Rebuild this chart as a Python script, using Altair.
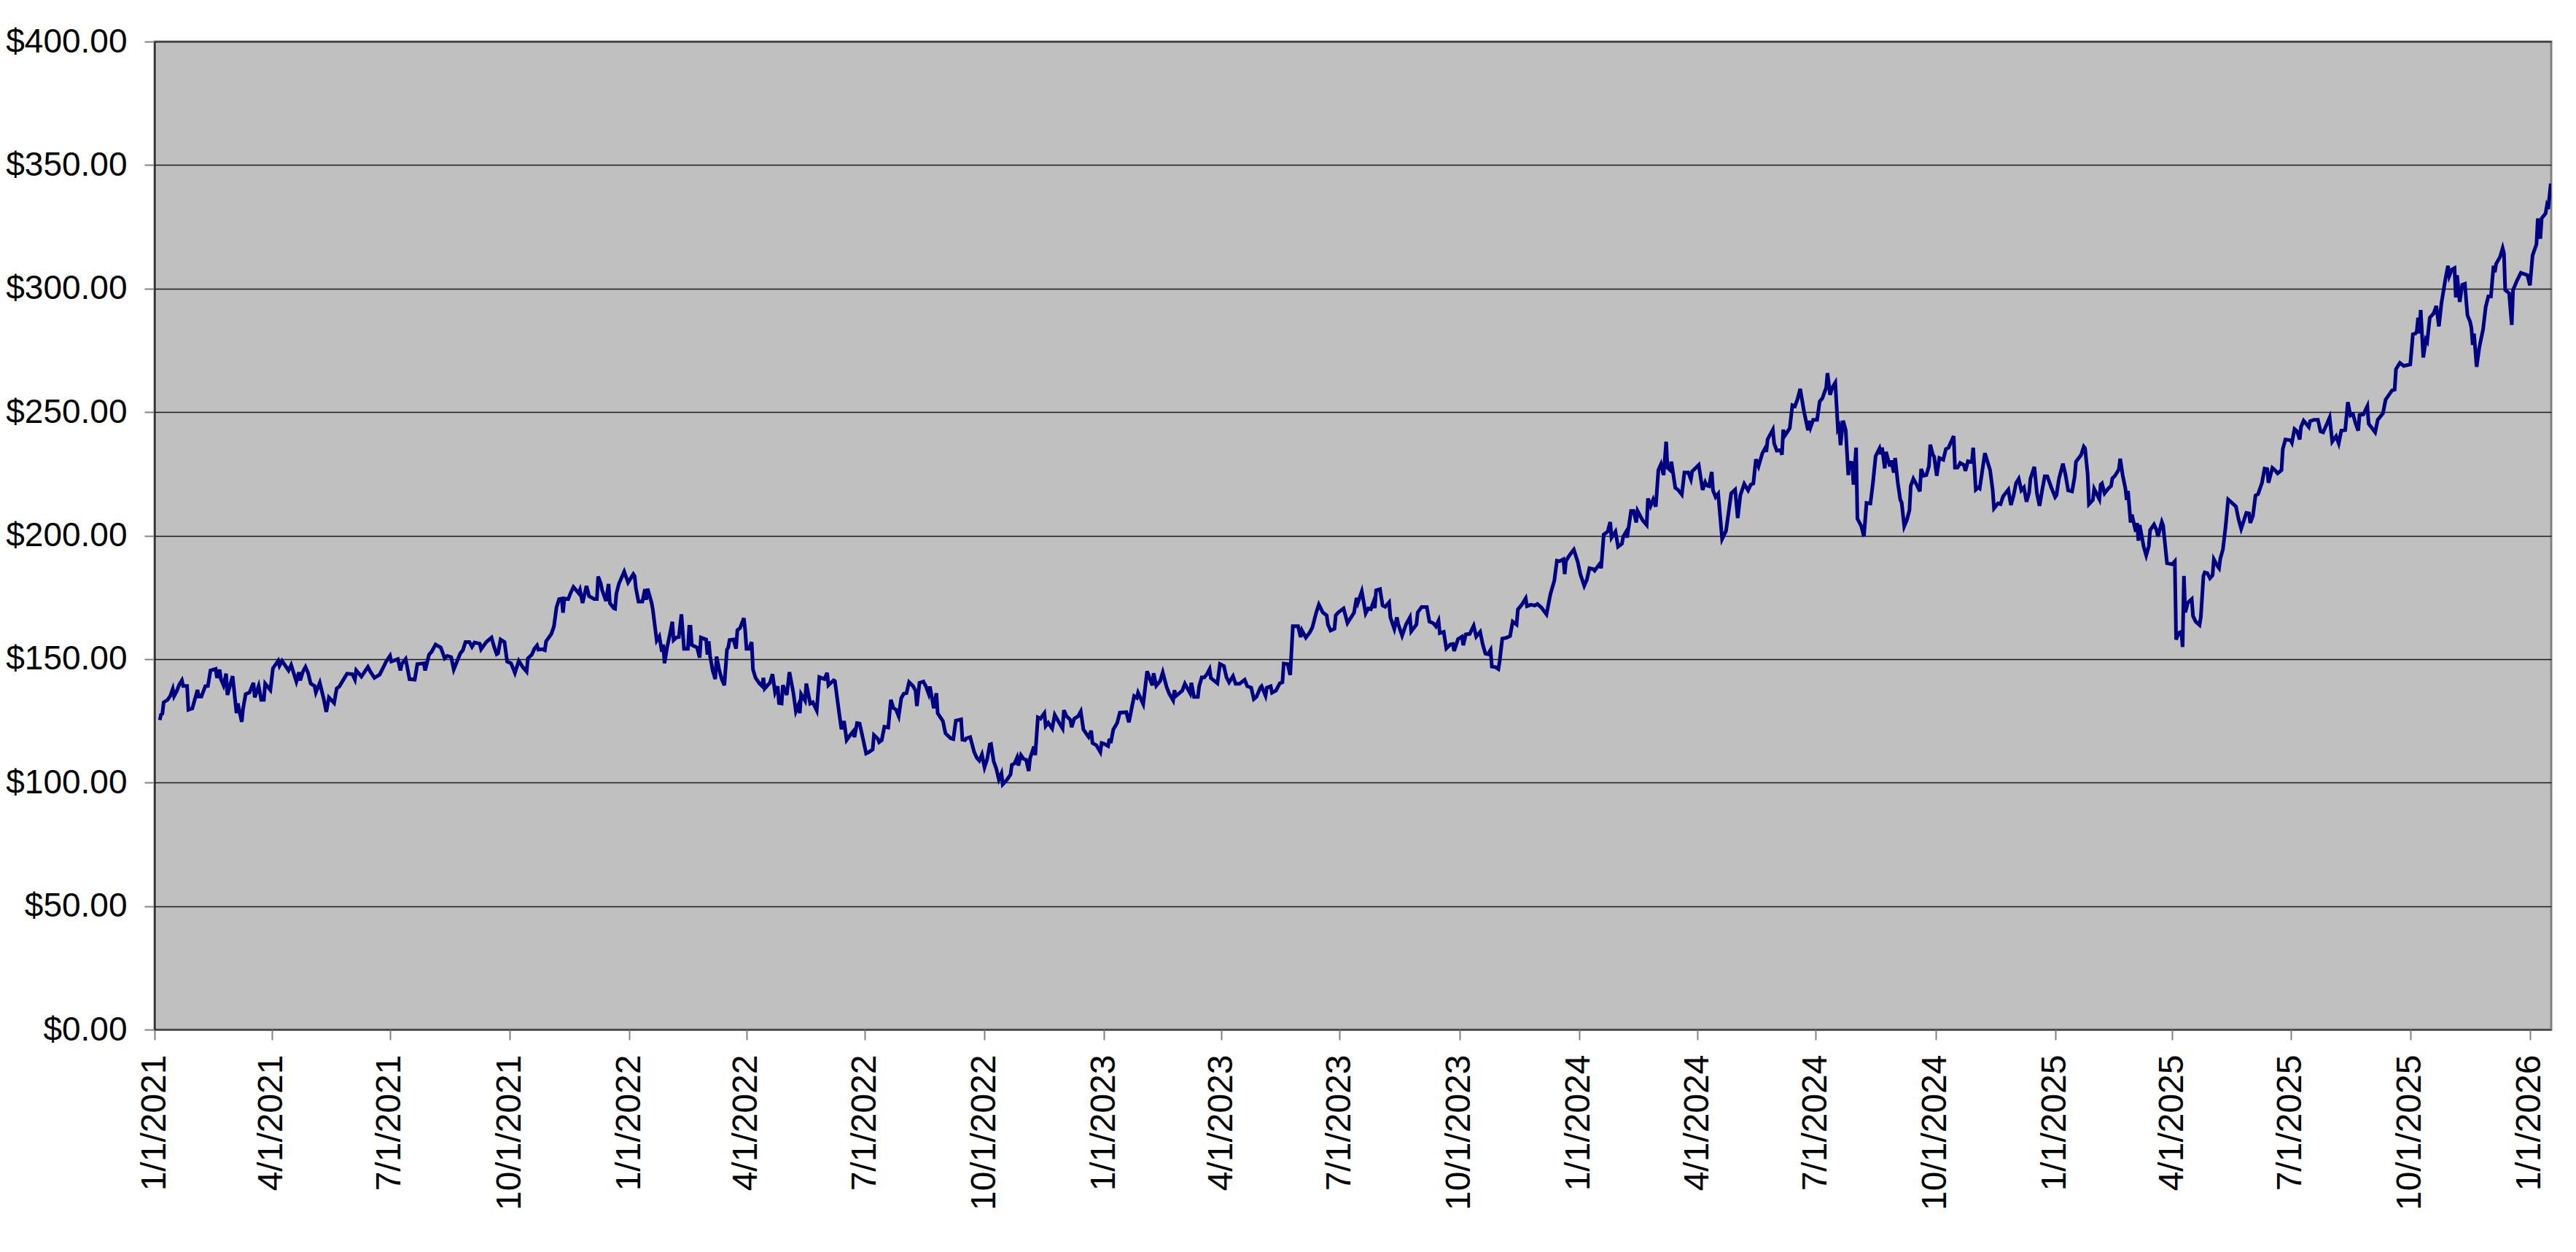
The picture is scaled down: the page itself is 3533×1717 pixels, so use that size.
import altair as alt
import pandas as pd

# Day offsets from 2021-01-01 and closing prices
d1 = [4,5,6,7,10,12,14,15,17,19,21,22,25,26,29,33,34,36,39,41,43,47,48,50,51,53,55,56,60,63,64,67,68,70,73,76,77,80,82,84,85,89,91,95,96,98,103,105,109,111,112,114,116,118,120,123,124,127,130,132,134,138,140,142,146,148,152,154,155,159,164,166,169,173,176,178,181,182,187,189,190,193,196,200,202,207,208,211,213,216,220,223,225,228,230,235,237,239,242,244,246,250,251,255,259,261,263,264,266,269,271,274,277,280,283,286,287,290,292,294,295,298,300,301,305]
v1 = [125.3,127.6,127.9,132.5,133.5,135,137.9,135,137,139.7,141.4,139.1,139.1,129.5,130,137.5,134.8,134.8,139,139.1,145.4,146,142.4,145.7,141.9,139.4,144.1,135.5,143.1,128.1,132,124.6,129.8,135.8,136.5,140.4,134.5,139.1,133.5,133.5,140.1,137.5,146.3,149.3,147.3,149.3,145.4,147.6,140.9,144.7,141.4,144.9,146.8,144.4,140.1,139.1,136.5,140.4,134,128.6,134.5,132.2,138.1,138.9,142.4,144.1,143.9,141.7,145.4,142.9,146.8,144.8,142.4,143.7,146.8,149,151.3,149,150,145.4,148,150,141.9,141.7,148,148.3,145.4,151.8,153,155.9,154.7,150.3,151.3,150.8,145.8,152.3,153.6,156.9,156.9,155,156.7,156.2,154,156.9,158.7,155,152,152.3,157.9,156.9,149,148.3,144.4,149.3,146.8,144.9,150.3,151.8,154.2,155.5,153.8,154,153.6,157.2,160.2]

d2 = [307,309,311,313,314,315,318,320,322,326,327,329,332,334,338,340,341,343,344,347,349,350,353,354,355,357,361,362,364,368,369,370,372,375,377,378,379,382,383,386,388,390,391,392,394,396,398,399,401,403,405,407,410,411,412,413,417,419,420,424,425,426,427,429,431,432,434,436,438,440,441,442,445,447,448,450,453,454,455,457,459,460,462,465,467,468,469,473,475,477,479,480,482,483,486,488,491,493,495,496,497,500,501,504,506,509,511,515,517,518,522,523,526,528,530,532,535,537,538,540,542,545,547,549,552,553,556,557,559,561,564,566,568,570,572,574,576,578,580,583,585,586,588,591,593,595,596,599,601,602,606,608,612,614,616,620,621,623,624,627]
v2 = [163.2,171,174.3,174.5,168.8,174.5,174.3,177,179.2,176.7,178,172.7,179.6,175.5,174.3,174.3,183.4,180.6,178,173.5,180.4,172.7,170.6,170.4,176.5,180.6,185.4,183.9,181,184.4,183.6,178.7,173.3,173.3,178.3,174,178.5,173,170.1,157.5,159.2,153,155.9,148.3,154.7,159.7,165.1,157.7,158.7,158.9,168.1,154.2,154.2,163.1,163.1,155.7,154.7,150.6,158.7,157.9,151.8,157.2,151.3,145.4,141.9,151,145.8,141.9,139.4,153.8,154.7,157.7,157.9,154.2,161.7,162.5,166.6,161.7,154.2,154.2,156.9,145.8,142.4,140.1,139.1,142.4,138.1,140.4,143.9,136.5,139,132.2,132,139.4,135.5,144.7,136.5,128.9,131.5,128.1,135.8,133.2,140.1,132,132.5,129.2,142.7,141.9,144.4,139.4,141.4,141.1,129.1,121.6,124.9,117.2,119.4,120.7,118.4,124.1,123.9,116.7,111.8,112.3,113.4,119.2,117.7,116.4,117.2,122.6,122.3,133.5,130.2,129.5,126.9,134.2,136,136.2,140.7,139.1,137.2,131,140.4,140.9,138.9,136,138.9,130.1,136.2,128.1,124.9,119.9,117.9,117.6,125.1,125.6,117.4,117.2,117.9,118.4]

d3 = [630,632,634,636,638,640,642,643,645,647,649,651,652,655,658,659,661,663,664,666,668,670,672,673,676,677,679,681,684,685,687,690,692,695,698,699,701,704,705,707,710,712,714,716,718,720,721,724,727,728,730,733,734,735,737,740,742,747,749,751,753,755,756,760,763,765,767,768,770,773,775,778,780,783,784,785,790,792,796,797,799,802,803,805,807,809,811,812,817,819,822,824,826,829,831,834,838,840,843,845,847,850,851,854,855,858,859,862,865,867,868,871,873,875,879,881,882,885,888,890,893,895,898,901,902,904,907,908,910,914,917,921,922,924,925,928,931,933,935,937,938,939,942,944,946]
v3 = [112.4,110.1,108.9,111.4,106.2,109.4,115.4,115.6,108.7,105.7,101.3,103.7,99.3,101,103.3,107.2,107.7,110.1,106.9,111.1,109.6,109.2,104.7,109.8,114.6,111.1,126.4,125.9,128.1,122.9,124.2,121.9,127.4,124.6,121.9,129.3,126.9,125.4,122.4,125.9,126.9,128.8,121.5,120,118.5,121,116,115.1,112.4,116,115.7,114.8,117.7,116,121.5,124.2,128.3,128.5,124.4,129.8,135,134.3,136.4,131.8,145.1,142.1,139.4,144.3,139.2,141.1,144.6,138.7,136,133.3,137.4,135,137.2,140,136.2,140.4,134.7,134.7,139,142.6,142.6,143.9,145.9,142.3,140.2,148,147.2,142.6,140.6,143.1,140,140,141.6,139,138.4,133.8,134.7,138.4,139,135.2,138.4,139,136.4,137.2,140.2,140.6,148.2,148,143.6,163.3,163.3,158.9,161.6,158.7,160.8,162.8,168.9,172.1,168.9,167.7,164,161.6,162.3,167.7,168.9,170.5,164.6,167.9,168.7,174.8,172.8,177.4,168.5,170.5,170.2,173.1,170.6,177.8,178.3,171.7,171.2]

d4 = [949,950,953,955,956,959,962,965,966,970,971,974,978,980,983,985,987,988,991,993,996,998,999,1002,1005,1006,1008,1011,1014,1016,1019,1021,1023,1025,1027,1028,1031,1033,1034,1036,1039,1042,1044,1047,1048,1051,1054,1055,1058,1061,1063,1066,1070,1072,1073,1076,1078,1080,1083,1084,1085,1088,1091,1094,1096,1099,1101,1103,1106,1107,1111,1112,1114,1117,1119,1120,1123,1125,1128,1129,1131,1132,1135,1137,1139,1140,1144,1147,1148,1150,1152,1154,1156,1158,1160,1162,1163,1165,1166,1169,1171,1174,1176,1179,1181,1182,1187,1190,1192,1193,1195,1197,1198,1200,1202,1205,1208,1212,1215,1217,1219,1222,1225,1227,1229,1231,1233,1236,1238,1239,1240,1244,1245,1247,1250,1251,1252,1253,1257,1259,1261,1263,1265]
v4 = [173,166.9,162.2,166.9,164.2,159.5,164,166.9,161.2,164,168.9,171.1,171.1,165.2,164.5,163.2,165.5,160.5,161,154.3,155.9,156.1,153.3,158.1,159.1,155.6,160,160.2,163.5,159.1,161,155.9,152.2,152,153.7,147,146.7,146,149.2,158.3,158.6,159.3,165.2,164,170.1,172,174.6,171.4,172,171.7,172.3,170.9,168.1,173.6,176.3,181.7,189.8,189.6,190.4,184.4,189.8,192.3,194.3,189.4,184.4,179.7,182.1,186.8,186.4,185.8,188.6,186.8,200.4,201.6,205.5,199.2,201.6,195.5,196.7,199.6,201.4,199.2,210,210,205.3,210,206.1,204.3,215,212,214.6,211.7,226.5,228.9,224.5,238,227.5,226.5,229.9,219.3,218.6,216.6,225.5,225.5,222.8,226,228.6,218.5,221.5,220.3,220,225.8,218.3,215.6,216.9,198.6,201.9,217.1,218.6,207.1,216.3,220.9,218.3,220.6,221.1,230.9,228.1,233.4,235.3,233.9,239,242.9,237.3,234.4,234.6,232.7,242.9,240.3,243.5,252.8,252.4,255.3,259.4]

d5 = [1268,1271,1272,1273,1275,1278,1280,1282,1285,1286,1288,1290,1292,1294,1295,1296,1298,1300,1302,1303,1305,1306,1308,1309,1312,1314,1316,1319,1321,1323,1326,1327,1328,1330,1331,1334,1335,1337,1338,1340,1342,1343,1345,1347,1349,1350,1352,1355,1357,1358,1360,1362,1364,1365,1367,1368,1370,1372,1375,1377,1379,1383,1384,1386,1388,1391,1392,1394,1397,1398,1400,1402,1403,1407,1411,1413,1414,1417,1419,1421,1425,1427,1429,1431,1433,1435,1437,1439,1441,1442,1445,1447,1449,1451,1453,1455,1458,1461,1462,1464,1467,1469,1471,1474,1476,1477,1481,1483,1484,1486,1487,1490,1491,1495,1496,1497,1499,1502,1504,1505,1507,1510,1511,1513,1515,1516,1517,1519,1520,1523,1524,1525,1526,1529,1531,1533,1534,1537,1539,1540,1543,1544,1547,1551,1553,1554,1556,1558,1559,1560,1561,1563,1566,1567,1569,1572,1573,1575,1576,1578,1580,1582,1583]
v5 = [250.1,242.7,246.5,243.9,246.9,246.9,254.3,255.5,259.9,265.8,257,260.2,261.9,243.2,244.2,236.6,246.5,242.7,224.5,229.7,229.4,220.6,235.6,206.8,203.8,199.6,213.2,213,221.6,232.1,235.3,232.9,235.6,227.2,233.9,228,230.4,225.5,231.4,221.6,214.4,213.4,203.8,206.3,210.2,220.1,223,220.1,217.9,227,224.2,224.5,228.1,236.8,232.7,231.9,224.2,231.4,230.7,235,235.6,240.3,227.5,227.5,229.4,228.5,226.2,230.1,229.7,235.6,218.6,219.5,219.1,233.4,226.5,218.3,211,213,212.7,215.9,218.6,212.4,216.1,221.3,223,218.3,219.5,213.7,217.3,223,227.8,217.1,212,218.3,224,224,219.5,215.6,216.3,223.2,229.1,224.5,218.3,217.9,223.8,229.9,232.7,236,235.3,224.8,212.7,214.4,218.9,214.7,220.6,221.1,217.1,219.1,220.1,223.2,224.2,226.8,231.1,224.2,219.1,214.4,218.1,205.3,208.5,201.6,205.1,197.9,204.3,195.7,192,195.7,202.2,204.5,202.2,199.6,205.5,204.1,188.8,188.4,189.6,157.9,160.6,161.1,154.9,183.7,168.9,172.8,174.3,167.4,165.2,163.8,167,183.7,185.1,184.8,182.7,183.9,190.4]

d6 = [1586,1587,1588,1590,1592,1594,1596,1600,1602,1604,1606,1608,1610,1611,1613,1615,1617,1620,1622,1624,1625,1628,1630,1632,1635,1636,1638,1642,1643,1645,1647,1649,1650,1652,1656,1657,1660,1663,1665,1667,1670,1672,1674,1677,1679,1681,1684,1686,1688,1690,1692,1694,1695,1698,1701,1702,1707,1709,1713,1715,1720,1722,1723,1726,1729,1734,1736,1738,1739,1740,1741,1742,1744,1746,1747,1749,1752,1754,1756,1758,1761,1763,1764,1766,1768,1769,1770,1772,1774,1776,1777,1778,1780,1781,1782,1783,1785,1787,1790,1792,1794,1796,1798,1799,1800,1803,1805,1806,1807,1810,1812,1813,1816,1819,1824,1826,1828,1831,1832,1834,1835,1838,1839,1840,1842]
v6 = [187.5,186.8,190.7,194.5,203.5,214.6,213.7,211.8,206.6,202.8,206,209.2,209,205.1,207.9,216.2,216.8,221.4,227.1,226.9,221.4,227.4,226.5,225.2,226.5,235,238.9,238.6,237.6,243.1,242.2,238.9,244,246.5,244,246.3,246.9,246.9,242.2,241.8,245.3,247.8,238,240.2,237.3,242.5,242.7,254,248.6,249.1,245.3,242.5,248.8,249.1,252.4,245.3,241.8,246.9,249.5,255,258.8,259.1,267.4,269.9,268.7,269.3,281.5,281.8,282.7,288.2,281.8,291.3,272.1,279.3,278.5,288.2,290,293,284.7,294.2,303.8,309.2,305.1,307.7,308.3,296.4,305.4,294.6,301.5,301.9,295.1,289.1,286.6,284,277.2,281.8,268.3,276,283.6,292.6,296.8,296.8,309.2,306.6,310,312.8,316.4,314.3,299.4,298.1,285.3,299.4,303.2,306.4,305.4,301.3,313.4,317.9,328.4,320.2,328.4,330.4,333.5,332.2,342.5]

x_tick_dates = ["2021-01-01", "2021-04-01", "2021-07-01", "2021-10-01",
                "2022-01-01", "2022-04-01", "2022-07-01", "2022-10-01",
                "2023-01-01", "2023-04-01", "2023-07-01", "2023-10-01",
                "2024-01-01", "2024-04-01", "2024-07-01", "2024-10-01",
                "2025-01-01", "2025-04-01", "2025-07-01", "2025-10-01",
                "2026-01-01"]
y_ticks = [0, 50, 100, 150, 200, 250, 300, 350, 400]

days, vals = [], []
for d, v in [(d1, v1), (d2, v2), (d3, v3), (d4, v4), (d5, v5), (d6, v6)]:
    n = min(len(d), len(v))
    days += d[:n]
    vals += v[:n]

base = pd.Timestamp("2021-01-01")
dates = [(base + pd.Timedelta(days=int(x))).strftime("%Y-%m-%d") for x in days]
df = pd.DataFrame({"date": dates, "price": vals})


def dt(s, hours=0):
    return alt.DateTime(year=int(s[:4]), month=int(s[5:7]), date=int(s[8:10]),
                        hours=hours, utc=True)


tick_values = [dt(s) for s in x_tick_dates]

chart = alt.Chart(df).mark_line(color="#000080", strokeWidth=5, clip=True).encode(
    x=alt.X("date:T",
            scale=alt.Scale(type="utc", domain=[dt("2021-01-01"), dt("2026-01-17", 8)]),
            axis=alt.Axis(values=tick_values,
                          labelExpr="utcFormat(datum.value, '%-m/%-d/%Y')",
                          labelAngle=270, labelFontSize=48, labelPadding=20,
                          labelLimit=0,
                          tickSize=14, tickColor="#808080", tickWidth=2,
                          domain=False, grid=False, labelFlush=False,
                          labelOverlap=False, labelBound=False, title=None)),
    y=alt.Y("price:Q",
            scale=alt.Scale(domain=[0, 400], nice=False, zero=True),
            axis=alt.Axis(values=y_ticks, format="$,.2f", labelFontSize=46,
                          labelPadding=24, labelLimit=0, tickSize=14,
                          tickColor="#808080", tickWidth=2, domain=True,
                          domainColor="#000000", domainWidth=1.5, grid=True,
                          gridColor="#1a1a1a", gridWidth=1.5,
                          labelOverlap=False, title=None)),
).properties(
    width=3287,
    height=1355,
    padding={"left": 204, "top": 49, "right": 20, "bottom": 290},
    autosize=alt.AutoSizeParams(type="none"),
    background="white",
).configure_view(
    fill="#C0C0C0", stroke="#808080", strokeWidth=3
).configure_axis(
    labelFont="Liberation Sans", labelColor="#000000"
)

chart.save("out.html", embed_options={"renderer": "svg", "actions": False})
